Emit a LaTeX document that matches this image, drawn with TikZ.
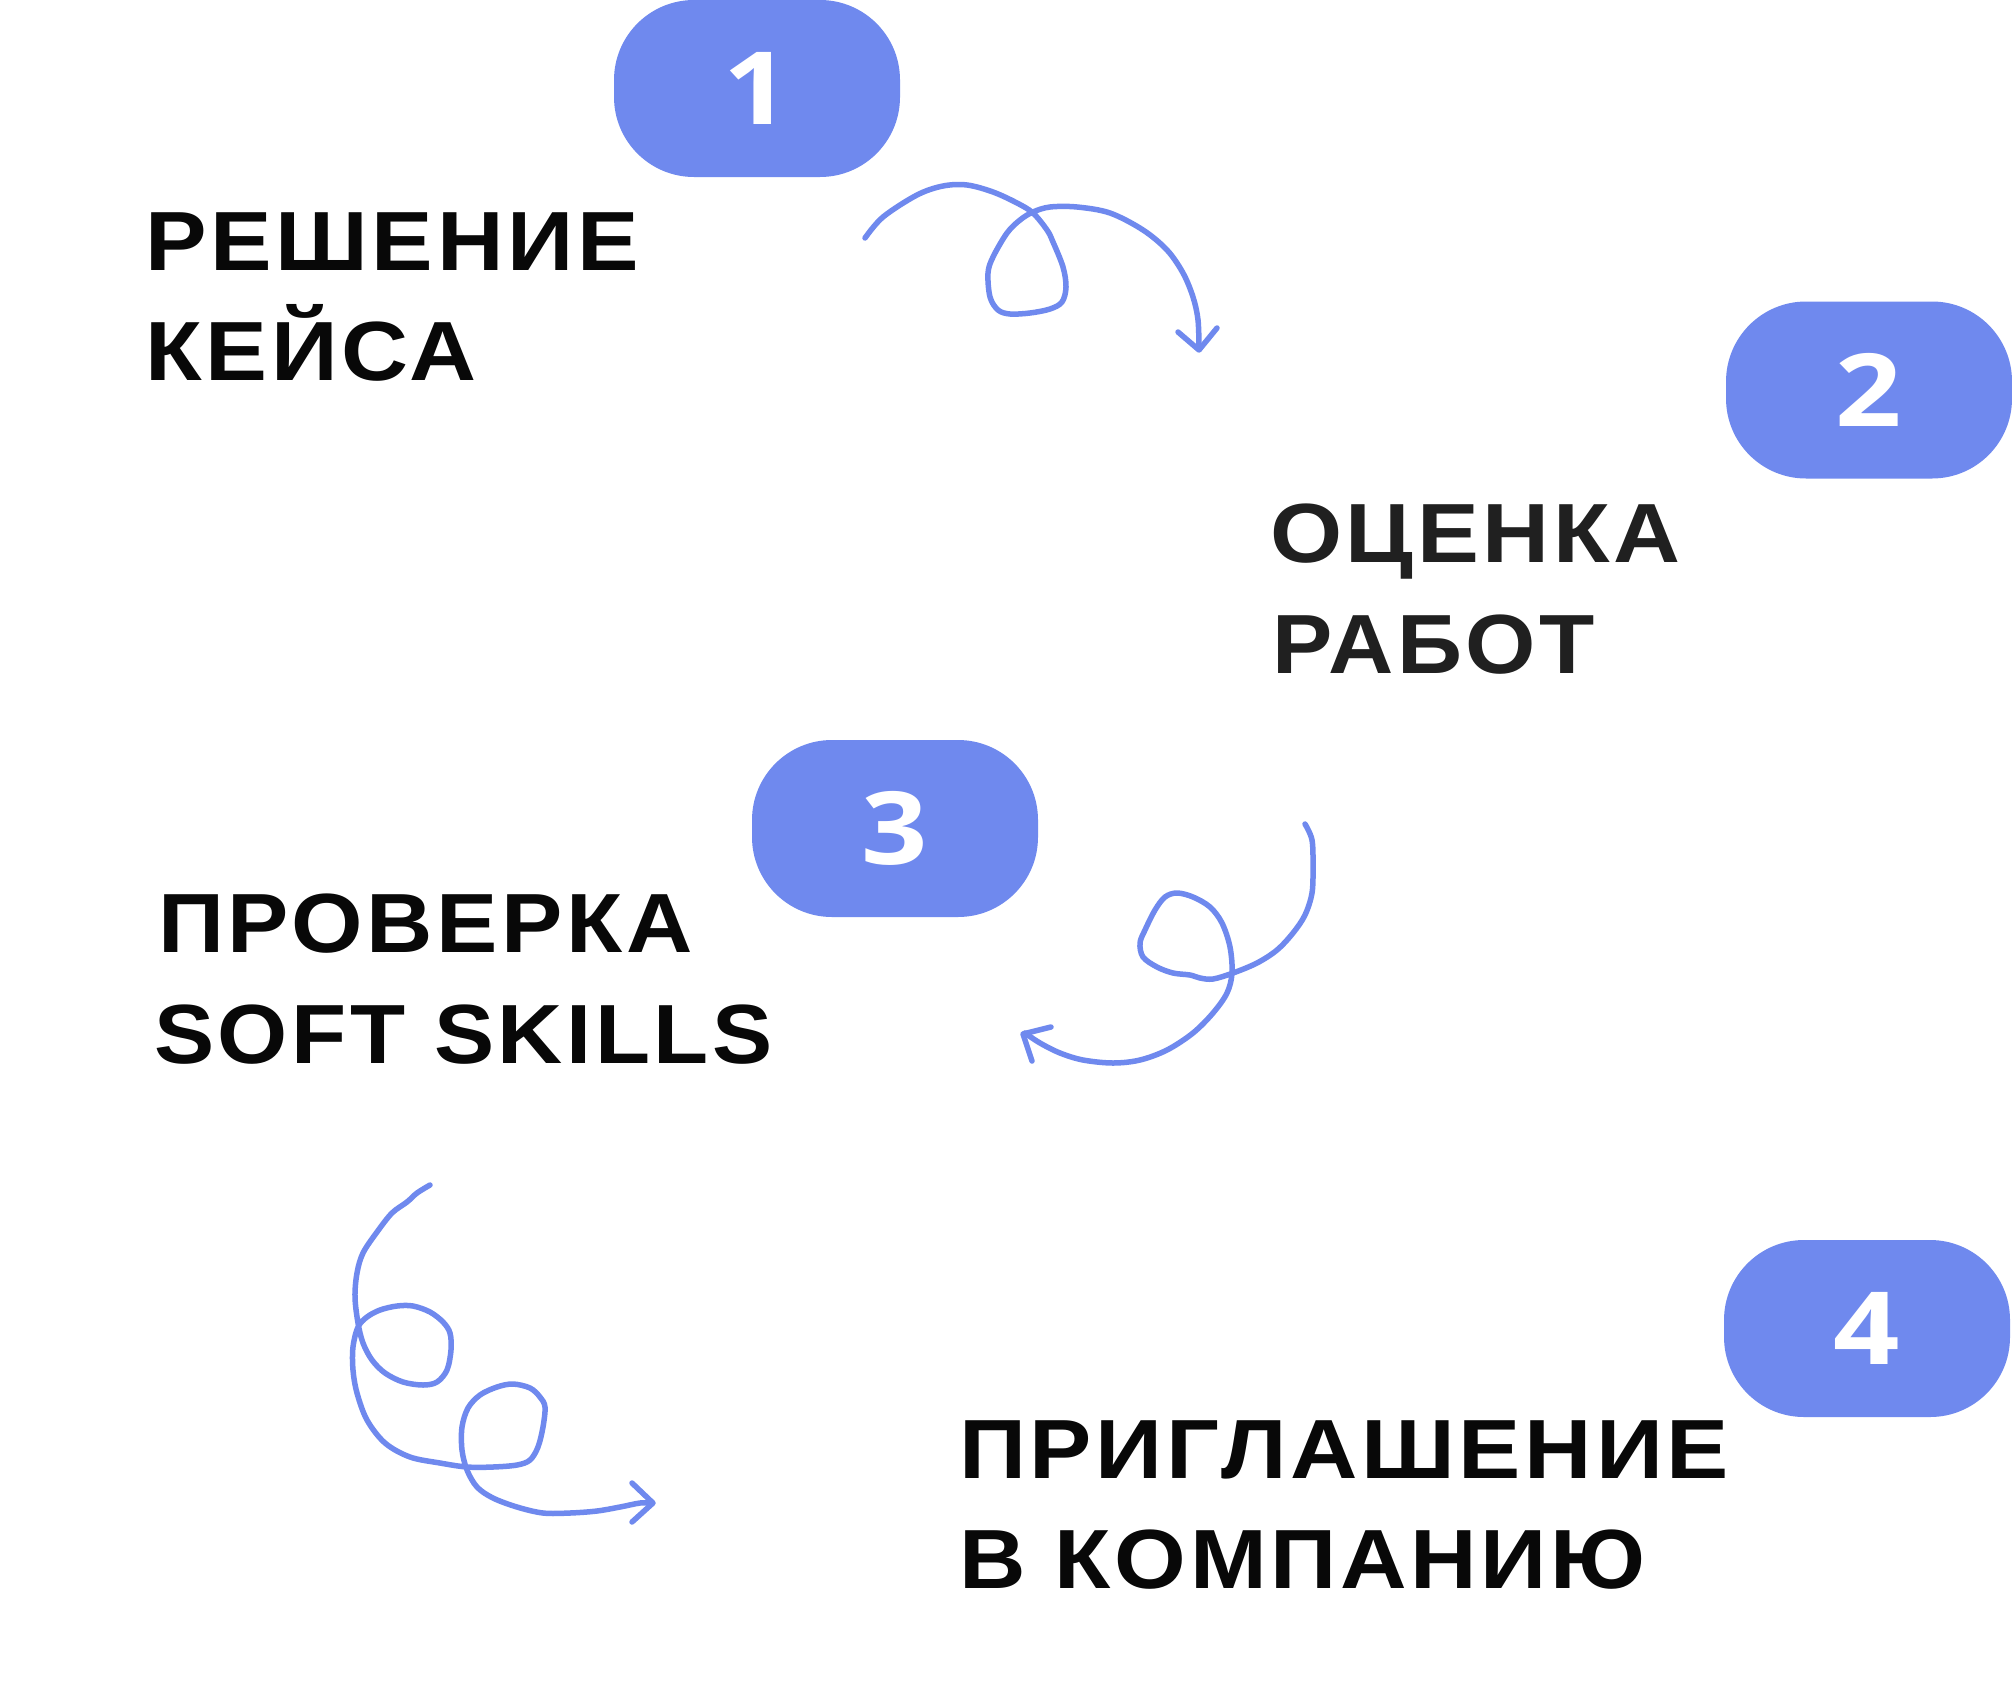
\documentclass[tikz,border=0pt]{standalone}
\usepackage{fontspec}
\setmainfont{Liberation Sans}
\newfontfamily\lblfont{Liberation Sans}[LetterSpace=4]
\newfontfamily\numfont{Open Sans}
\definecolor{pillblue}{RGB}{111,137,238}
\definecolor{inkA}{RGB}{8,8,8}
\definecolor{inkB}{RGB}{32,32,32}
\newcommand{\fitline}[2]{\resizebox{#1pt}{\height}{\lblfont\bfseries\fontsize{84}{84}\selectfont #2\kern-0.04em}}
\newcommand{\pilldigit}[1]{\scalebox{1.15}[1]{\numfont\bfseries\fontsize{101}{101}\selectfont #1}}
\begin{document}
\begin{tikzpicture}[x=1pt,y=-1pt,
  pill/.style={fill=pillblue, rounded corners=80pt, minimum width=286pt, minimum height=177pt, inner sep=0pt, text=white},
  lbl/.style={anchor=base west, inner sep=0pt, text=inkA},
  swirl/.style={draw=pillblue, line width=5.5pt, line cap=round, line join=round}]
\useasboundingbox (0,0) rectangle (2012,1702);
\fill[white] (0,0) rectangle (2012,1702);

% pills
\node[pill] (p1) at (757,88.5) {\pilldigit{1}};
\node[pill] (p2) at (1869,390) {\pilldigit{2}};
\node[pill] (p3) at (895,828.5) {\pilldigit{3}};
\node[pill] (p4) at (1867,1328.5) {\pilldigit{4}};

% labels
\node[lbl] (t1a) at (145,270) {\fitline{490}{РЕШЕНИЕ}};
\node[lbl] (t1b) at (145,380) {\fitline{328}{КЕЙСА}};
\node[lbl, text=inkB] (t2a) at (1270,562) {\fitline{407}{ОЦЕНКА}};
\node[lbl, text=inkB] (t2b) at (1272,673) {\fitline{319}{РАБОТ}};
\node[lbl] (t3a) at (158,952) {\fitline{531}{ПРОВЕРКА}};
\node[lbl] (t3b) at (154,1063) {\fitline{615}{SOFT SKILLS}};
\node[lbl] (t4a) at (959,1478) {\fitline{766}{ПРИГЛАШЕНИЕ}};
\node[lbl] (t4b) at (959,1588) {\fitline{683}{В КОМПАНИЮ}};

% swirl 1
\draw[swirl] plot[smooth, tension=0.55] coordinates {
 (865,238) (883,217) (917,195) (943,186) (967,185) (993,192) (1017,203) (1033,213)
 (1047,230) (1053,242) (1063,267) (1066,287) (1062,302) (1050,309) (1030,313)
 (1010,314) (998,310) (990,297) (988,273) (993,257) (1007,233) (1020,220) (1033,212)
 (1050,207) (1077,207) (1110,213) (1143,230) (1167,250) (1183,273) (1193,297)
 (1198,320) (1199,348)};
\draw[swirl] (1178,332) -- (1199,350) -- (1217,328);

% swirl 2
\draw[swirl] plot[smooth, tension=0.55] coordinates {
 (1305,824) (1312,840) (1313,867) (1312,893) (1305,915) (1293,933) (1277,950)
 (1257,963) (1233,973) (1213,979) (1200,978) (1190,975) (1173,973) (1157,967)
 (1143,957) (1140,943) (1145,930) (1155,910) (1165,897) (1177,893) (1193,897)
 (1210,907) (1222,923) (1230,947) (1232,973) (1227,993) (1213,1013) (1193,1033)
 (1167,1050) (1140,1060) (1113,1063) (1083,1060) (1060,1053) (1040,1043) (1025,1033)};
\draw[swirl] (1051,1027) -- (1023,1034) -- (1032,1061);

% swirl 3
\draw[swirl] plot[smooth, tension=0.55] coordinates {
 (430,1185) (417,1193) (407,1202) (392,1213) (377,1232) (363,1253) (357,1273)
 (355,1297) (358,1323) (363,1343) (372,1360) (385,1373) (403,1382) (423,1385)
 (437,1382) (447,1370) (451,1350) (450,1333) (443,1322) (430,1312) (413,1306)
 (397,1306) (380,1310) (367,1317) (358,1327) (353,1347) (353,1370) (357,1393)
 (367,1420) (385,1443) (410,1457) (440,1463) (467,1467) (493,1467) (517,1465)
 (530,1460) (538,1447) (543,1427) (545,1407) (540,1397) (530,1388) (513,1384)
 (497,1387) (480,1395) (468,1408) (462,1427) (462,1450) (467,1470) (477,1487)
 (493,1498) (517,1507) (543,1513) (570,1513) (597,1511) (620,1507) (640,1503) (652,1503)};
\draw[swirl] (632,1483) -- (653,1503) -- (632,1522);
\end{tikzpicture}
\end{document}
